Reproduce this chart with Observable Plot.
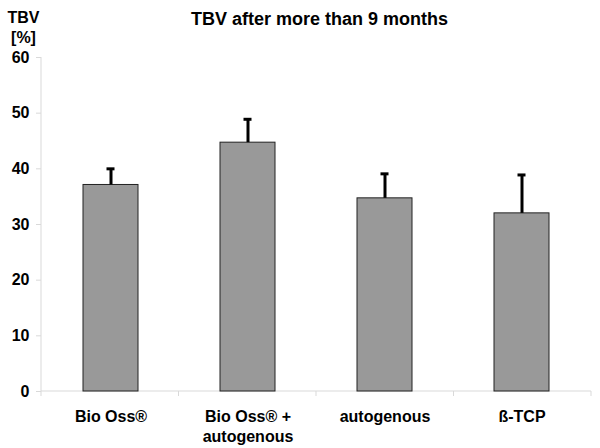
<!DOCTYPE html>
<html>
<head>
<meta charset="utf-8">
<script src="https://cdn.jsdelivr.net/npm/d3@7"></script>
<script src="https://cdn.jsdelivr.net/npm/@observablehq/plot@0.6"></script>
<style>
  html, body { margin: 0; padding: 0; background: #fff; }
  svg { font-family: "Liberation Sans", Arial, sans-serif; }
</style>
</head>
<body>
<div id="chart"></div>
<script>
const categories = ["Bio Oss®", "Bio Oss® + autogenous", "autogenous", "ß-TCP"];
const means = [37.1, 44.7, 34.7, 32.0];
const sds = [2.9, 4.2, 4.4, 6.9];
const yTicks = [0, 10, 20, 30, 40, 50, 60];
const title = "TBV after more than 9 months";
const yLabel = "TBV\n[%]";

const data = categories.map((c, i) => ({cat: c, mean: means[i], upper: means[i] + sds[i]}));

const axisLines = (index, scales, values, dimensions) => {
  const {width, height, marginLeft, marginRight, marginTop, marginBottom} = dimensions;
  const g = d3.create("svg:g");
  const y0 = height - marginBottom;
  const step = (width - marginLeft - marginRight) / categories.length;
  g.append("line").attr("x1", marginLeft).attr("x2", marginLeft)
    .attr("y1", marginTop).attr("y2", y0).attr("stroke", "#d9d9d9");
  g.append("line").attr("x1", marginLeft).attr("x2", width - marginRight)
    .attr("y1", y0).attr("y2", y0).attr("stroke", "#d9d9d9");
  for (let i = 0; i <= categories.length; i++) {
    const x = marginLeft + i * step;
    g.append("line").attr("x1", x).attr("x2", x)
      .attr("y1", y0).attr("y2", y0 + 5).attr("stroke", "#d9d9d9");
  }
  return g.node();
};

const chart = Plot.plot({
  width: 600,
  height: 448,
  marginLeft: 41,
  marginRight: 9,
  marginTop: 57,
  marginBottom: 57,
  style: {fontFamily: "'Liberation Sans', Arial, sans-serif", background: "#fff"},
  x: {domain: categories, paddingInner: 0.6, paddingOuter: 0.3, label: null},
  y: {domain: [0, 60], label: null},
  marks: [
    axisLines,
    Plot.axisY({ticks: yTicks, tickSize: 5, tickPadding: 7, stroke: "#d9d9d9", fill: "#000",
      fontWeight: "bold", fontSize: 16, label: null}),
    Plot.axisX({tickSize: 0, tickPadding: 16, fill: "#000", fontWeight: "bold", fontSize: 16,
      lineHeight: 1.25, label: null, tickFormat: d => d.replace(" + ", " +\n")}),
    Plot.barY(data, {x: "cat", y: "mean", fill: "#999999", stroke: "#222", strokeWidth: 1}),
    Plot.ruleX(data, {x: "cat", y1: "mean", y2: "upper", stroke: "#000", strokeWidth: 3}),
    Plot.tickY(data, {x: "cat", y: "upper", stroke: "#000", strokeWidth: 3, insetLeft: 23.5, insetRight: 23.5}),
    Plot.text([title], {frameAnchor: "top", dx: 3, dy: -45, text: d => d, fontWeight: "bold", fontSize: 18, fill: "#000"}),
    Plot.text([yLabel], {frameAnchor: "top-left", dx: -18, dy: -49, text: d => d, textAnchor: "middle",
      lineAnchor: "top", lineHeight: 1.25, fontWeight: "bold", fontSize: 16, fill: "#000"})
  ]
});
document.getElementById("chart").appendChild(chart);
</script>
</body>
</html>
